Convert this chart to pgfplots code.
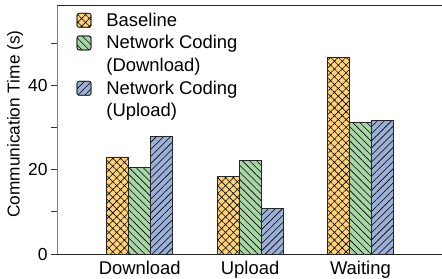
\documentclass[border=0pt]{standalone}
\usepackage{fontspec}
\setmainfont{Liberation Sans}
\usepackage{pgfplots}
\pgfplotsset{compat=1.18}
\usetikzlibrary{patterns.meta}
\definecolor{cOr}{RGB}{255,210,122}
\definecolor{cGr}{RGB}{168,213,166}
\definecolor{cBl}{RGB}{155,175,215}
\pgfplotsset{roundleg/.style={legend image code/.code={\draw[##1, rounded corners=2bp] (0bp,-7bp) rectangle (14bp,7bp);}}}
\begin{document}
\begin{tikzpicture}
\begin{axis}[
  scale only axis, width=384.5bp, height=249bp,
  ybar=0pt, bar width=22bp,
  xmin=-0.75, xmax=2.735, ymin=0, ymax=59,
  xtick={0,1,2}, xticklabels={Download,Upload,Waiting},
  x tick style={draw=none},
  ytick={0,20,40}, minor ytick={10,30,50},
  tick align=outside, major tick length=6bp, minor tick length=6bp,
  y tick style={black!80, line width=0.8bp},
  axis x line*=bottom, axis y line*=left,
  x axis line style={-, line width=0.9bp, black!85},
  y axis line style={-, line width=0.9bp, gray},
  /pgf/number format/assume math mode=true,
  x tick label style={font=\fontsize{18.5}{21}\selectfont, yshift=2bp},
  y tick label style={font=\fontsize{17.5}{20}\selectfont},
  every axis y label/.style={at={(axis description cs:-0.109,0.522)}, rotate=90, anchor=center, font=\fontsize{17.3}{20}\selectfont},
  ylabel={Communication Time (s)},
  legend style={at={(axis description cs:0.043,0.985)}, anchor=north west, draw=none, fill=none,
    font=\fontsize{18.5}{21}\selectfont, row sep=3.8bp,
    /tikz/every odd column/.append style={column sep=13bp}},
  legend cell align=left,
  after end axis/.code={\draw[black!85, line width=0.9bp] (rel axis cs:0,1) -- (rel axis cs:1,1);},
]
\addplot[fill=cOr, draw=black!85, line width=0.7bp, bar shift=-22bp,
  postaction={pattern={Hatch[angle=45,distance=5.5bp,line width=0.6bp]}}, roundleg]
  coordinates {(0,23.0) (1,18.3) (2,46.5)};
\addlegendentry{Baseline}
\addplot[fill=cGr, draw=black!85, line width=0.7bp, bar shift=0bp,
  postaction={pattern={Lines[angle=-45,distance=5bp,line width=0.6bp]}}, roundleg]
  coordinates {(0,20.6) (1,22.2) (2,31.1)};
\addlegendentry{Network Coding}
\addlegendimage{empty legend}
\addlegendentry{(Download)}
\addplot[fill=cBl, draw=black!85, line width=0.7bp, bar shift=22bp,
  postaction={pattern={Lines[angle=45,distance=5bp,line width=0.6bp]}}, roundleg]
  coordinates {(0,27.8) (1,10.8) (2,31.6)};
\addlegendentry{Network Coding}
\addlegendimage{empty legend}
\addlegendentry{(Upload)}
\end{axis}
\pgfresetboundingbox
\useasboundingbox (-57bp,-25bp) rectangle (385bp,254bp);
\end{tikzpicture}
\end{document}
